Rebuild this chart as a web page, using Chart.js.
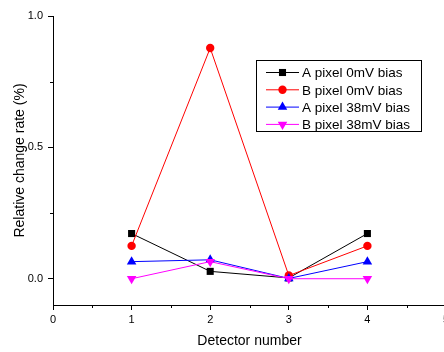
<!DOCTYPE html>
<html>
<head>
<meta charset="utf-8">
<script src="https://cdn.jsdelivr.net/npm/chart.js@4"></script>
<style>
    html, body { margin: 0; padding: 0; background: #fff; overflow: hidden; }
    #wrap { width: 470px; height: 352px; }
</style>
</head>
<body>
<div id="wrap"><canvas id="chart" width="470" height="352"></canvas></div>
<script>
// detector numbers on the x axis
const detectors = [1, 2, 3, 4];

// relative change rate (%) per detector
const aPixel0mV = [0.172, 0.028, 0.003, 0.172];
const bPixel0mV = [0.125, 0.878, 0.012, 0.125];
const aPixel38mV = [0.065, 0.072, 0.001, 0.065];
const bPixel38mV = [0.000, 0.065, 0.000, 0.000];

const seriesNames = ['A pixel 0mV bias', 'B pixel 0mV bias', 'A pixel 38mV bias', 'B pixel 38mV bias'];

const xTicks = [0, 1, 2, 3, 4, 5];
const yTicks = [0, 0.5, 1.0];
const xMinorTicks = [0.5, 1.5, 2.5, 3.5, 4.5];
const yMinorTicks = [0.25, 0.75];

const FONT = '"Liberation Sans", Arial, sans-serif';

const pts = vals => detectors.map((d, i) => ({ x: d, y: vals[i] }));

const styles = [
    { color: '#000000', pointStyle: 'rect', pointRadius: 5, rotation: 0 },
    { color: '#ff0000', pointStyle: 'circle', pointRadius: 4.2, rotation: 0 },
    { color: '#0000ff', pointStyle: 'triangle', pointRadius: 5.5, rotation: 0 },
    { color: '#ff00ff', pointStyle: 'triangle', pointRadius: 5.5, rotation: 180 }
];
const seriesData = [aPixel0mV, bPixel0mV, aPixel38mV, bPixel38mV];

const datasets = seriesData.map((vals, i) => ({
    label: seriesNames[i],
    data: pts(vals),
    borderColor: styles[i].color,
    backgroundColor: styles[i].color,
    borderWidth: 1,
    pointStyle: styles[i].pointStyle,
    pointRadius: styles[i].pointRadius,
    pointRotation: styles[i].rotation,
    pointBorderWidth: 0,
    tension: 0,
    order: 3 - i
}));

// short outward ticks between the labelled ones
const minorTicks = {
    id: 'minorTicks',
    afterDraw(chart) {
        const { ctx, scales: { x, y } } = chart;
        ctx.save();
        ctx.strokeStyle = '#000';
        ctx.lineWidth = 1;
        ctx.beginPath();
        xMinorTicks.forEach(v => {
            const px = Math.round(x.getPixelForValue(v)) + 0.5;
            ctx.moveTo(px, x.top);
            ctx.lineTo(px, x.top + 3);
        });
        yMinorTicks.forEach(v => {
            const py = Math.round(y.getPixelForValue(v)) + 0.5;
            ctx.moveTo(y.right, py);
            ctx.lineTo(y.right - 3, py);
        });
        ctx.stroke();
        ctx.restore();
    }
};

// boxed legend inside the plot, like the original
const boxLegend = {
    id: 'boxLegend',
    afterDraw(chart) {
        const { ctx } = chart;
        const box = { left: 256.5, top: 60.5, right: 421.5, bottom: 131.5 };
        ctx.save();
        ctx.fillStyle = '#fff';
        ctx.fillRect(box.left, box.top, box.right - box.left, box.bottom - box.top);
        ctx.strokeStyle = '#000';
        ctx.lineWidth = 1;
        ctx.strokeRect(box.left, box.top, box.right - box.left, box.bottom - box.top);
        ctx.font = '13.5px ' + FONT;
        ctx.textBaseline = 'middle';
        chart.data.datasets.forEach((ds, i) => {
            const rowY = 72.5 + i * 17.3;
            ctx.strokeStyle = ds.borderColor;
            ctx.beginPath();
            ctx.moveTo(266, rowY);
            ctx.lineTo(299, rowY);
            ctx.stroke();
            ctx.fillStyle = ds.backgroundColor;
            Chart.helpers.drawPoint(ctx, {
                pointStyle: ds.pointStyle,
                radius: ds.pointRadius,
                rotation: ds.pointRotation,
                borderWidth: 0
            }, 282.5, rowY);
            ctx.fillStyle = '#000';
            ctx.fillText(ds.label, 302, rowY + 1);
        });
        ctx.restore();
    }
};

new Chart(document.getElementById('chart'), {
    type: 'line',
    data: { datasets },
    plugins: [minorTicks, boxLegend],
    options: {
        responsive: false,
        animation: false,
        layout: { padding: { top: 16, right: 24, left: 0, bottom: 0 } },
        plugins: { legend: { display: false }, tooltip: { enabled: false } },
        scales: {
            x: {
                type: 'linear',
                min: 0,
                max: 5,
                afterBuildTicks: s => { s.ticks = xTicks.map(v => ({ value: v })); },
                afterFit: s => { s.height = 47; },
                grid: { drawOnChartArea: false, tickLength: 5, color: '#000' },
                border: { color: '#000', width: 1 },
                ticks: { color: '#000', padding: 3, font: { family: FONT, size: 11 }, maxRotation: 0, callback: v => String(v) },
                title: { display: true, text: 'Detector number', color: '#000', font: { family: FONT, size: 14 }, padding: { top: 0, bottom: 2 } }
            },
            y: {
                min: -0.1,
                max: 1.0,
                afterBuildTicks: s => { s.ticks = yTicks.map(v => ({ value: v })); },
                afterFit: s => { s.width = 53; },
                grid: { drawOnChartArea: false, tickLength: 5, color: '#000' },
                border: { color: '#000', width: 1 },
                ticks: { color: '#000', padding: 5, font: { family: FONT, size: 11 }, callback: v => v.toFixed(1) },
                title: { display: true, text: 'Relative change rate (%)', color: '#000', font: { family: FONT, size: 14 }, padding: { top: 12, bottom: 0 } }
            }
        }
    }
});
</script>
</body>
</html>
